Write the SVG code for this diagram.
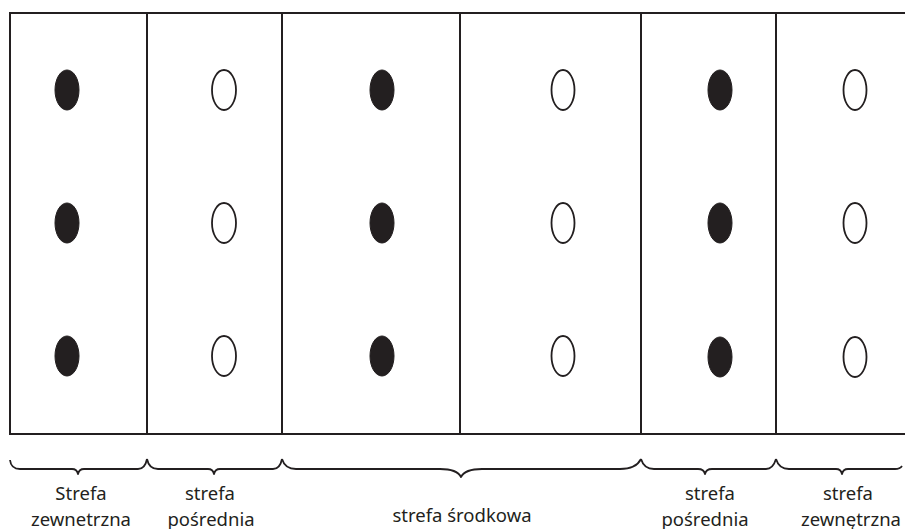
<svg xmlns="http://www.w3.org/2000/svg" width="905" height="529" viewBox="0 0 905 529">
  <style>
    .frame { fill: none; stroke: #231f20; stroke-width: 2; }
    .div { stroke: #231f20; stroke-width: 2; }
    .dark { fill: #231f20; stroke: #231f20; stroke-width: 1; }
    .light { fill: #ffffff; stroke: #231f20; stroke-width: 1.8; }
    .brace { fill: none; stroke: #231f20; stroke-width: 1.8; stroke-linejoin: round; }
    .lbl { font-family: "Noto Sans", "Open Sans", "DejaVu Sans", sans-serif; font-size: 18.5px; fill: #231f20; text-anchor: middle; }
  </style>

  <!-- outer frame: top, left and bottom edges -->
  <g id="frame">
    <path class="frame" d="M905,13 H10 V434 H905"/>
  </g>

  <!-- zone dividers -->
  <g id="dividers">
    <line class="div" x1="147" y1="13" x2="147" y2="434"/>
    <line class="div" x1="282" y1="13" x2="282" y2="434"/>
    <line class="div" x1="460" y1="13" x2="460" y2="434"/>
    <line class="div" x1="641" y1="13" x2="641" y2="434"/>
    <line class="div" x1="776" y1="13" x2="776" y2="434"/>
  </g>

  <!-- columns of marks -->
  <g id="col-1">
    <ellipse class="dark" cx="67" cy="90" rx="12" ry="20"/>
    <ellipse class="dark" cx="67" cy="223" rx="12" ry="20"/>
    <ellipse class="dark" cx="67" cy="356" rx="12" ry="20"/>
  </g>
  <g id="col-2">
    <ellipse class="light" cx="224" cy="90" rx="12" ry="20"/>
    <ellipse class="light" cx="224" cy="223" rx="12" ry="20"/>
    <ellipse class="light" cx="224" cy="356" rx="12" ry="20"/>
  </g>
  <g id="col-3">
    <ellipse class="dark" cx="382" cy="90" rx="12" ry="20"/>
    <ellipse class="dark" cx="382" cy="223" rx="12" ry="20"/>
    <ellipse class="dark" cx="382" cy="356" rx="12" ry="20"/>
  </g>
  <g id="col-4">
    <ellipse class="light" cx="563" cy="90" rx="11.5" ry="20"/>
    <ellipse class="light" cx="563" cy="223" rx="11.5" ry="20"/>
    <ellipse class="light" cx="563" cy="356" rx="11.5" ry="20"/>
  </g>
  <g id="col-5">
    <ellipse class="dark" cx="720" cy="90" rx="12" ry="20"/>
    <ellipse class="dark" cx="720" cy="223" rx="12" ry="20"/>
    <ellipse class="dark" cx="720" cy="357" rx="12" ry="20"/>
  </g>
  <g id="col-6">
    <ellipse class="light" cx="855" cy="90" rx="11.5" ry="20"/>
    <ellipse class="light" cx="855" cy="223" rx="11.5" ry="20"/>
    <ellipse class="light" cx="855" cy="357" rx="11.5" ry="20"/>
  </g>

  <!-- braces under the zones -->
  <g id="braces">
    <path class="brace" d="M10,460 Q11,469 20,469 H72 Q77,469 78,474 Q79,469 84,469 H138 Q145,469 147,459"/>
    <path class="brace" d="M147,459 Q149,469 158,469 H208 Q213,469 214,474 Q215,469 220,469 H273 Q280,469 282,459"/>
    <path class="brace" d="M282,459 Q285,469 296,469 H440 Q457,469 461,477 Q465,469 482,469 H620 Q636,469 641,459"/>
    <path class="brace" d="M641,459 Q644,469 654,469 H698 Q704,469 705,474 Q706,469 712,469 H766 Q773,469 776,459"/>
    <path class="brace" d="M776,459 Q779,469 789,469 H836 Q841,469 842,474 Q843,469 848,469 H895 Q900,469 902,466"/>
  </g>

  <!-- zone labels -->
  <g id="labels">
    <text class="lbl" x="81" y="500">Strefa</text>
    <text class="lbl" x="81" y="526">zewnetrzna</text>
    <text class="lbl" x="210" y="500">strefa</text>
    <text class="lbl" x="211" y="526">pośrednia</text>
    <text class="lbl" x="462" y="522">strefa środkowa</text>
    <text class="lbl" x="710" y="500">strefa</text>
    <text class="lbl" x="705" y="526">pośrednia</text>
    <text class="lbl" x="848" y="500">strefa</text>
    <text class="lbl" x="851" y="526">zewnętrzna</text>
  </g>
</svg>
